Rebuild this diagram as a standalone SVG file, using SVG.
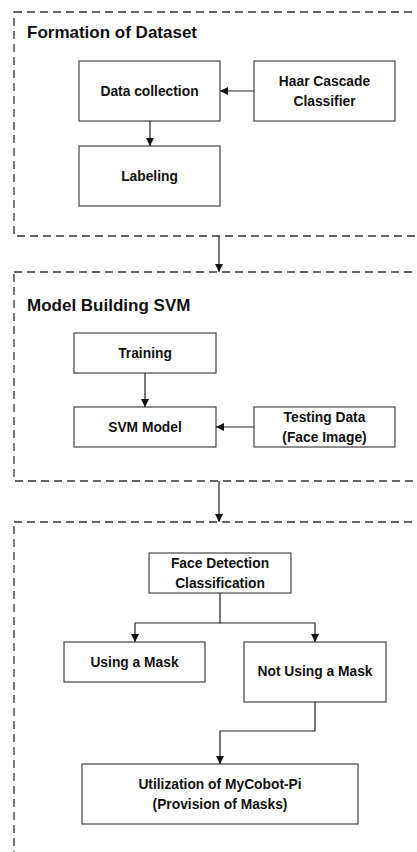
<svg xmlns="http://www.w3.org/2000/svg" width="417" height="852" viewBox="0 0 417 852">
<style>
.grp{fill:none;stroke:#333;stroke-width:1.3;stroke-dasharray:8,5}
.box{fill:#fff;stroke:#444;stroke-width:1.2}
.t{font-family:"Liberation Sans",Arial,sans-serif;font-weight:bold;font-size:13.8px;fill:#111;text-anchor:middle}
.h{font-family:"Liberation Sans",Arial,sans-serif;font-weight:bold;font-size:17px;fill:#111}
.c{fill:none;stroke:#222;stroke-width:1.2;marker-end:url(#a)}
</style>
<defs>
<marker id="a" viewBox="0 0 10 10" refX="10" refY="5" markerWidth="8" markerHeight="8" markerUnits="userSpaceOnUse" orient="auto">
<path d="M0,0L10,5L0,10z" fill="#111"/>
</marker>
</defs>
<rect width="417" height="852" fill="#fff"/>
<g id="group1">
<rect class="grp" x="14" y="12" width="420" height="224"/>
<text class="h" x="27" y="38">Formation of Dataset</text>
</g>
<g id="group2">
<rect class="grp" x="14" y="272" width="420" height="209"/>
<text class="h" x="27" y="311">Model Building SVM</text>
</g>
<g id="group3">
<rect class="grp" x="14" y="522" width="420" height="340"/>
</g>
<g id="n-datacollection">
<rect class="box" x="79" y="61" width="141" height="60"/>
<text class="t" x="149.5" y="96">Data collection</text>
</g>
<g id="n-haar">
<rect class="box" x="254" y="61" width="141" height="60"/>
<text class="t" x="324.5" y="86">Haar Cascade</text>
<text class="t" x="324.5" y="106">Classifier</text>
</g>
<g id="n-labeling">
<rect class="box" x="79" y="146" width="141" height="60"/>
<text class="t" x="149.5" y="181">Labeling</text>
</g>
<g id="n-training">
<rect class="box" x="74" y="333" width="142" height="40"/>
<text class="t" x="145" y="358">Training</text>
</g>
<g id="n-svm">
<rect class="box" x="74" y="407" width="142" height="40"/>
<text class="t" x="145" y="432">SVM Model</text>
</g>
<g id="n-testing">
<rect class="box" x="254" y="407" width="141" height="40"/>
<text class="t" x="324.5" y="422">Testing Data</text>
<text class="t" x="324.5" y="442">(Face Image)</text>
</g>
<g id="n-facedetect">
<rect class="box" x="149" y="553" width="142" height="40"/>
<text class="t" x="220" y="568">Face Detection</text>
<text class="t" x="220" y="588">Classification</text>
</g>
<g id="n-mask">
<rect class="box" x="64" y="642" width="141" height="40"/>
<text class="t" x="134.5" y="667">Using a Mask</text>
</g>
<g id="n-nomask">
<rect class="box" x="244" y="642" width="142" height="60"/>
<text class="t" x="315" y="676">Not Using a Mask</text>
</g>
<g id="n-mycobot">
<rect class="box" x="82" y="764" width="276" height="60"/>
<text class="t" x="220" y="789">Utilization of MyCobot-Pi</text>
<text class="t" x="220" y="809">(Provision of Masks)</text>
</g>
<g id="connectors">
<path class="c" d="M254,91H220"/>
<path class="c" d="M150,121V146"/>
<path class="c" d="M219,236V272"/>
<path class="c" d="M145,373V407"/>
<path class="c" d="M254,427H216"/>
<path class="c" d="M219,481V522"/>
<path class="c" d="M220,593V623H135V642"/>
<path class="c" d="M220,623H315V642"/>
<path class="c" d="M315,702V731H220V764"/>
</g>
</svg>
